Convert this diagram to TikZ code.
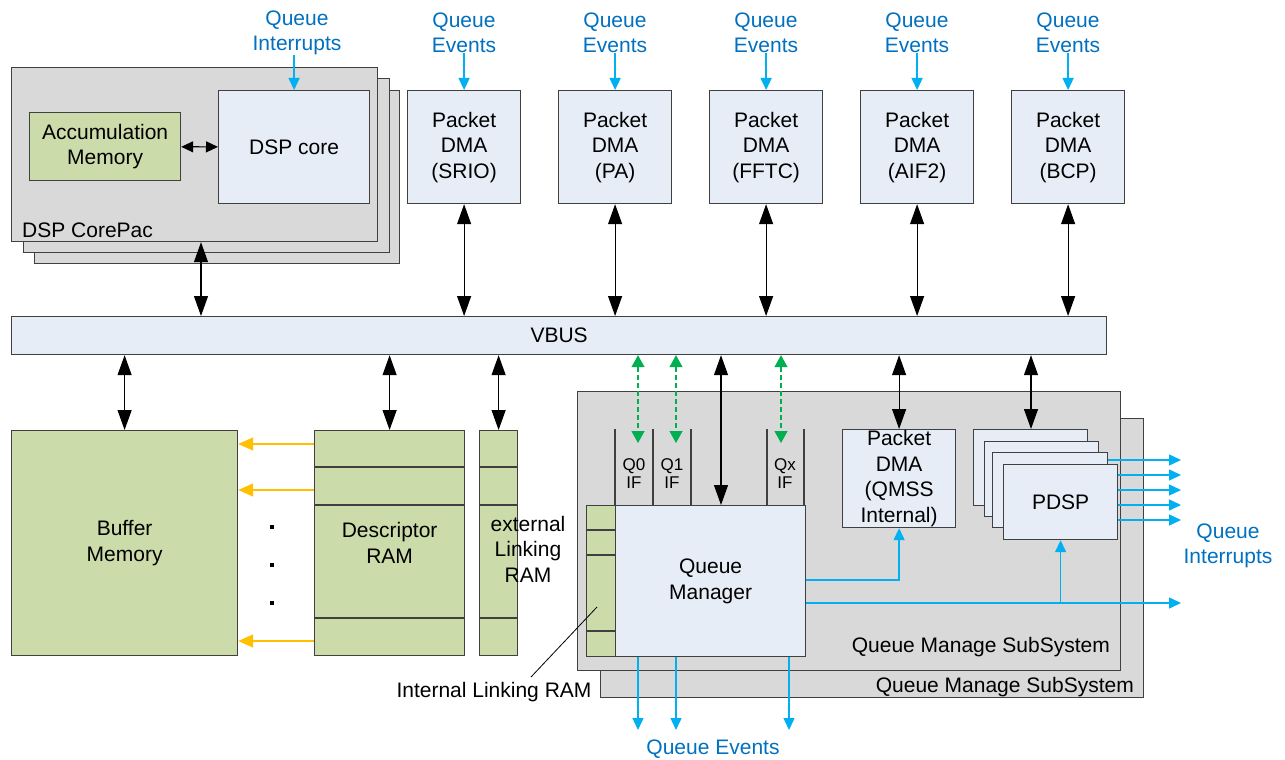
\documentclass[tikz,border=0pt]{standalone}
\usepackage{fontspec}
\setmainfont{Liberation Sans}
\usetikzlibrary{arrows.meta}
\definecolor{gfill}{HTML}{D9D9D9}
\definecolor{bfill}{HTML}{E7EDF7}
\definecolor{lfill}{HTML}{CCDBAA}
\definecolor{qblue}{HTML}{00B0F0}
\definecolor{tblue}{HTML}{0070C0}
\definecolor{qgreen}{HTML}{00B050}
\definecolor{qyellow}{HTML}{FFC000}
\definecolor{edge}{HTML}{404040}
\newcommand\myfs{\fontsize{21}{25.5}\selectfont}
\newcommand\mysmall{\fontsize{17}{18}\selectfont}
\begin{document}
\begin{tikzpicture}[x=1pt,y=-1pt,
  box/.style={draw=edge, line width=1.2pt, inner sep=0pt, anchor=north west, align=center, font=\myfs},
  txt/.style={inner sep=0pt, align=center, font=\myfs},
  btxt/.style={txt, text=tblue},
  qtxt/.style={inner sep=0pt, align=center, font=\mysmall},
  rowline/.style={draw=edge, line width=1.2pt},
  dbl/.style={line width=1.2pt, {Triangle[length=20pt,width=14pt]}-{Triangle[length=20pt,width=14pt]}},
  dblsmall/.style={line width=1.2pt, {Triangle[length=12pt,width=11pt]}-{Triangle[length=12pt,width=11pt]}},
  barr/.style={draw=qblue, line width=1.4pt, -{Triangle[length=12pt,width=11pt]}},
  garr/.style={draw=qgreen, line width=1.3pt, dashed, dash pattern=on 5pt off 3pt, {Triangle[length=12pt,width=13pt]}-{Triangle[length=12pt,width=13pt]}},
  yarr/.style={draw=qyellow, line width=1.4pt, -{Triangle[length=15pt,width=13pt]}},
]
\useasboundingbox (0,0) rectangle (1285,760);

% DSP CorePac stack
\node[box, fill=gfill, minimum width=365, minimum height=173] (dsp3) at (34,90) {};
\node[box, fill=gfill, minimum width=366, minimum height=174] (dsp2) at (23,78) {};
\node[box, fill=gfill, minimum width=366, minimum height=174] (dsp1) at (11,67) {};
\node[txt, anchor=base west] (dsplbl) at (22,237) {DSP CorePac};
\node[box, fill=lfill, minimum width=151, minimum height=68] (acc) at (29,112) {Accumulation\\Memory};
\node[box, fill=bfill, minimum width=151, minimum height=113] (core) at (218,90) {DSP core};
\draw[dblsmall] (acc) -- (core);
\node[btxt] (qi1) at (297,33) {Queue\\Interrupts};
\draw[barr] (qi1.south -| core.north) -- (core.north);

% VBUS
\node[box, fill=bfill, minimum width=1095, minimum height=38] (vbus) at (11,316) {VBUS};
\coordinate (dspx) at (201,0);
\draw[dbl] (dsp1.south -| dspx) -- (vbus.north -| dspx);

% Packet DMAs
\foreach \x/\n/\t in {407/srio/SRIO, 558/pa/PA, 709/fftc/FFTC, 860/aif/AIF2, 1011/bcp/BCP}{
  \node[box, fill=bfill, minimum width=113, minimum height=113] (\n) at (\x,90) {Packet\\DMA\\(\t)};
  \node[btxt] (qe\n) at (\x+57,33) {Queue\\Events};
  \draw[barr] (qe\n.south -| \n.north) -- (\n.north);
  \draw[dbl] (\n.south) -- (vbus.north -| \n.south);
}

% Buffer memory
\node[box, fill=lfill, minimum width=226, minimum height=225] (buf) at (11,430) {Buffer\\Memory};
\draw[dbl] (vbus.south -| buf.north) -- (buf.north);

% Descriptor RAM
\node[box, fill=lfill, minimum width=150, minimum height=225] (desc) at (314,430) {Descriptor\\RAM};
\draw[rowline] (314,467) -- (464,467);
\draw[rowline] (314,505) -- (464,505);
\draw[rowline] (314,618) -- (464,618);
\draw[dbl] (vbus.south -| desc.north) -- (desc.north);

% external Linking RAM
\node[box, fill=lfill, minimum width=38, minimum height=225] (ext) at (479,430) {};
\draw[rowline] (479,467) -- (517,467);
\draw[rowline] (479,505) -- (517,505);
\draw[rowline] (479,618) -- (517,618);
\node[txt] (extlbl) at (528,549) {external\\Linking\\RAM};
\draw[dbl] (vbus.south -| ext.north) -- (ext.north);

% yellow arrows
\draw[yarr] ([yshift=-14pt]desc.north west) -- ([yshift=-14pt]buf.north east);
\draw[yarr] ([yshift=-60pt]desc.north west) -- ([yshift=-60pt]buf.north east);
\draw[yarr] ([yshift=-211pt]desc.north west) -- ([yshift=-211pt]buf.north east);
\foreach \yy in {527,565,603}{
  \fill (270,\yy-2) rectangle (274,\yy+2);
}

% Queue Manage SubSystem
\node[box, fill=gfill, minimum width=543, minimum height=279] (qms2) at (600,418) {};
\node[box, fill=gfill, minimum width=543, minimum height=279] (qms1) at (577,391) {};
\node[txt, anchor=base east] (qms2lbl) at (1134,692) {Queue Manage SubSystem};
\node[txt, anchor=base east] (qms1lbl) at (1110,652) {Queue Manage SubSystem};

% Queue manager
\node[box, fill=bfill, minimum width=190, minimum height=151] (qm) at (615,505) {Queue\\Manager};
\node[box, fill=lfill, minimum width=29, minimum height=151] (ilr) at (586,505) {};
\foreach \yy in {530,555,631}{
  \draw[rowline] (586,\yy) -- (615,\yy);
}
\foreach \xx in {615,653,691,767,804}{
  \draw[rowline] (\xx,429) -- (\xx,505);
}
\node[qtxt] (q0) at (634,474) {Q0\\IF};
\node[qtxt] (q1) at (672,474) {Q1\\IF};
\node[qtxt] (qx) at (785,474) {Qx\\IF};
\coordinate (q0a) at (638,443);
\coordinate (q1a) at (676,443);
\coordinate (qxa) at (781,443);
\draw[garr] (vbus.south -| q0a) -- (q0a);
\draw[garr] (vbus.south -| q1a) -- (q1a);
\draw[garr] (vbus.south -| qxa) -- (qxa);
\coordinate (qmx) at (721,0);
\draw[dbl] (vbus.south -| qmx) -- (qm.north -| qmx);

% Packet DMA QMSS internal
\node[box, fill=bfill, minimum width=113, minimum height=98] (qdma) at (842,429) {Packet\\DMA\\(QMSS\\Internal)};
\draw[dbl] (vbus.south -| qdma.north) -- (qdma.north);

% PDSP stack
\node[box, fill=bfill, minimum width=114, minimum height=76] (p1) at (973,429) {};
\node[box, fill=bfill, minimum width=114, minimum height=75] (p2) at (984,441) {};
\node[box, fill=bfill, minimum width=115, minimum height=75] (p3) at (992,452) {};
\node[box, fill=bfill, minimum width=114, minimum height=75] (p4) at (1003,464) {PDSP};
\coordinate (pdx) at (1031,0);
\draw[dbl] (vbus.south -| pdx) -- (p1.north -| pdx);

% Queue interrupts out
\coordinate (qiend) at (1181,0);
\draw[barr] ([yshift=-8pt]p3.north east) -- ([yshift=-8pt]p3.north east -| qiend);
\foreach \s in {11,26,41,56}{
  \draw[barr] ([yshift=-\s pt]p4.north east) -- ([yshift=-\s pt]p4.north east -| qiend);
}
\node[btxt] (qi2) at (1228,546) {Queue\\Interrupts};

% QM outputs
\draw[barr] ([yshift=-75pt]qm.north east) -| (qdma.south);
\coordinate (qiout) at ([yshift=-98pt]qm.north east);
\draw[barr] (qiout) -- (qiout -| qiend);
\draw[barr] (qiout -| p4.south) -- (p4.south);

% Queue events bottom
\coordinate (qe1) at (638,730);
\coordinate (qe2) at (676,730);
\coordinate (qe3) at (789,730);
\draw[barr] (qm.south -| qe1) -- (qe1);
\draw[barr] (qm.south -| qe2) -- (qe2);
\draw[barr] (qm.south -| qe3) -- (qe3);
\node[btxt] (qebot) at (713,749) {Queue Events};

% Internal Linking RAM label
\node[txt] (ilrlbl) at (494,692) {Internal Linking RAM};
\coordinate (ilrpt) at (597,607);
\draw[line width=0.8pt] (531,677) -- (ilrpt);
\end{tikzpicture}
\end{document}
